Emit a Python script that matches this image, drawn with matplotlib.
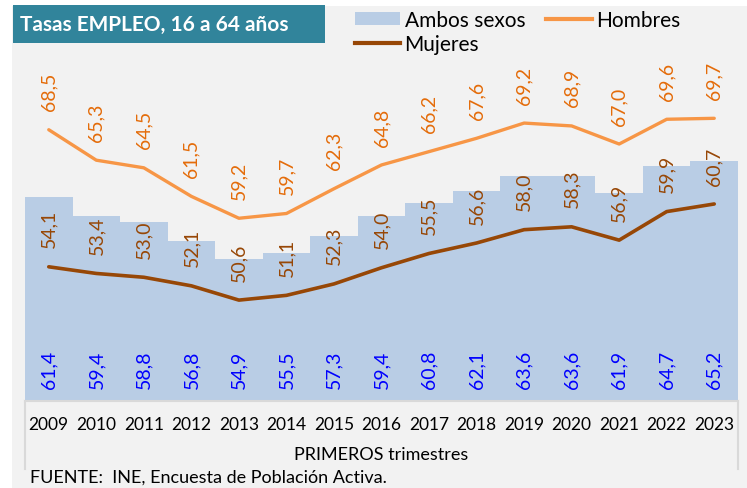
import matplotlib.pyplot as plt
from matplotlib.patches import Rectangle
from matplotlib.lines import Line2D

plt.rcParams['font.family'] = ['Lato', 'DejaVu Sans']

years = ['2009', '2010', '2011', '2012', '2013', '2014', '2015', '2016',
         '2017', '2018', '2019', '2020', '2021', '2022', '2023']
ambos = [61.4, 59.4, 58.8, 56.8, 54.9, 55.5, 57.3, 59.4, 60.8, 62.1, 63.6, 63.6, 61.9, 64.7, 65.2]
hombres = [68.5, 65.3, 64.5, 61.5, 59.2, 59.7, 62.3, 64.8, 66.2, 67.6, 69.2, 68.9, 67.0, 69.6, 69.7]
mujeres = [54.1, 53.4, 53.0, 52.1, 50.6, 51.1, 52.3, 54.0, 55.5, 56.6, 58.0, 58.3, 56.9, 59.9, 60.7]

c_bar = '#b9cde5'
c_hom = '#f79646'
c_hom_txt = '#e46c0a'
c_muj = '#974706'
c_grid = '#d9d9d9'

W, H = 747, 489
fig = plt.figure(figsize=(W / 100, H / 100), dpi=100)
fig.patches.append(Rectangle((12 / W, 0), 1, 1 - 7 / H, transform=fig.transFigure,
                             facecolor='#f2f2f2', edgecolor='none', zorder=-5))

ax = fig.add_axes([25 / W, 87 / H, 713 / W, 395 / H])
ax.set_facecolor('none')
x = list(range(len(years)))

ax.bar(x, [v - 40 for v in ambos], bottom=40, width=1.0, color=c_bar, label='Ambos sexos', zorder=1)
ax.plot(x, hombres, color=c_hom, lw=2.4, solid_capstyle='round', zorder=3)
ax.plot(x, mujeres, color=c_muj, lw=2.6, solid_capstyle='round', zorder=3)

def fmt(v):
    return f'{v:.1f}'.replace('.', ',')

for i in x:
    ax.annotate(fmt(hombres[i]), (i, hombres[i]), xytext=(0, 14), textcoords='offset points',
                rotation=90, ha='center', va='bottom', color=c_hom_txt, fontsize=14)
    ax.annotate(fmt(mujeres[i]), (i, mujeres[i]), xytext=(0, 14), textcoords='offset points',
                rotation=90, ha='center', va='bottom', color=c_muj, fontsize=14)
    ax.annotate(fmt(ambos[i]), (i, 40), xytext=(0, 9), textcoords='offset points',
                rotation=90, ha='center', va='bottom', color='#0000ff', fontsize=14)

ax.set_xlim(-0.5, len(years) - 0.5)
ax.set_ylim(40, 81.5)
ax.set_yticks([])
ax.set_xticks(x)
ax.set_xticklabels(years, fontsize=12.5, color='#000000')
ax.tick_params(axis='x', length=0, pad=11)
for s in ['top', 'right', 'left']:
    ax.spines[s].set_visible(False)
ax.spines['bottom'].set_color(c_grid)
ax.spines['bottom'].set_linewidth(1.5)

# category axis box lines
for px in (25, 738):
    fig.add_artist(Line2D([px / W, px / W], [19 / H, 87 / H], color=c_grid, lw=1.5))

fig.text(381 / W, 1 - 455 / H, 'PRIMEROS trimestres', ha='center', va='center', fontsize=13)
fig.text(30 / W, 1 - 478 / H, 'FUENTE:  INE, Encuesta de Población Activa.', ha='left', va='center', fontsize=13)

# title box
fig.patches.append(Rectangle((13 / W, 1 - 44 / H), 312 / W, 38 / H, transform=fig.transFigure,
                             facecolor='#31849b', edgecolor='none', zorder=5))
fig.text(20 / W, 1 - 25 / H, 'Tasas EMPLEO, 16 a 64 años', ha='left', va='center',
         fontsize=15, fontweight='bold', color='white', zorder=6)

handles = [Rectangle((0, 0), 1, 1, facecolor=c_bar),
           Line2D([], [], color=c_muj, lw=3),
           Line2D([], [], color=c_hom, lw=3)]
labels = ['Ambos sexos', 'Mujeres', 'Hombres']
fig.legend(handles, labels, loc='upper left', bbox_to_anchor=(340 / W, 1 + 4 / H), ncol=2,
           frameon=False, fontsize=15, handlelength=2.2, handleheight=0.6, handletextpad=0.2,
           columnspacing=1.0, labelspacing=0.2, borderpad=0.2)

fig.savefig('out.png', dpi=100)
